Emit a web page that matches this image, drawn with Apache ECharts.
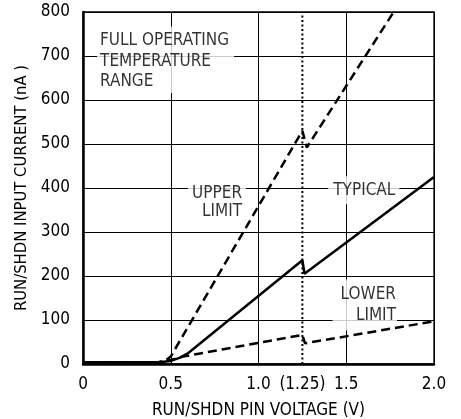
<!DOCTYPE html>
<html><head><meta charset="utf-8">
<script src="https://cdn.jsdelivr.net/npm/echarts@6/dist/echarts.min.js"></script>
<style>html,body{margin:0;padding:0;background:#fff}#c{width:461px;height:419px}</style>
</head><body><div id="c"></div>
<script>
const FONT = '"Liberation Sans Narrow","DejaVu Sans Condensed","Liberation Sans",sans-serif';

// data (V, nA)
const typicalV = [0, 0.43, 0.5, 0.55, 0.6, 1.25, 1.262, 2.0];
const typicalI = [4, 4, 7, 14, 25, 236, 205, 425];
const upperV = [0, 0.43, 0.47, 0.5, 1.25, 1.275, 1.77];
const upperI = [4, 4, 8, 17, 530, 492, 800];
const lowerV = [0, 0.43, 0.5, 0.57, 1.25, 1.265, 2.0];
const lowerI = [4, 4, 9, 17, 66, 47, 97];
const markerV = [1.25, 1.25];
const markerI = [0, 800];

const xTickValues = [0, 0.5, 1, 1.25, 1.5, 2];
const xTickLabels = ['0', '0.5', '1.0', '(1.25)', '1.5', '2.0'];
const yTickValues = [0, 100, 200, 300, 400, 500, 600, 700, 800];
const yTickLabels = ['0', '100', '200', '300', '400', '500', '600', '700', '800'];

const noteText = ['FULL OPERATING\nTEMPERATURE\nRANGE', 'UPPER\nLIMIT', 'TYPICAL', 'LOWER\nLIMIT'];
const noteAt = [[0.08, 767], [0.929, 367], [1.60, 395], [1.789, 134]];
const noteLayout = [
  {align: 'left', verticalAlign: 'top', padding: [4, 5, 1, 3], lineHeight: 20.5},
  {align: 'right', verticalAlign: 'middle', padding: [0, 4, 0, 4], lineHeight: 18.5},
  {align: 'center', verticalAlign: 'middle', padding: [5, 4, 5, 5], lineHeight: 18},
  {align: 'right', verticalAlign: 'middle', padding: [8, 1, 0, 8], lineHeight: 21.5}
];

const zip = (a, b) => a.map((v, i) => [v, b[i]]);

const chart = echarts.init(document.getElementById('c'), null, {renderer: 'canvas'});
chart.setOption({
  animation: false,
  backgroundColor: '#fff',
  grid: {left: 83, right: 27, top: 12, bottom: 55, containLabel: false, outerBoundsMode: 'none',
         show: true, borderColor: '#000', borderWidth: 1.3, backgroundColor: 'transparent'},
  xAxis: {
    type: 'value', min: 0, max: 2, interval: 0.5,
    name: 'RUN/SHDN PIN VOLTAGE (V)', nameLocation: 'middle', nameGap: 38,
    nameTextStyle: {fontFamily: FONT, fontSize: 17, color: '#000'},
    axisLine: {show: true, lineStyle: {color: '#000', width: 2.5}},
    axisTick: {show: false},
    splitLine: {show: true, lineStyle: {color: '#000', width: 1}},
    axisLabel: {
      customValues: xTickValues, margin: 12, fontFamily: FONT, fontSize: 17, color: '#000',
      formatter: v => { const i = xTickValues.findIndex(t => Math.abs(t - v) < 1e-9); return i >= 0 ? xTickLabels[i] : ''; }
    }
  },
  yAxis: {
    type: 'value', min: 0, max: 800, interval: 100,
    name: 'RUN/SHDN INPUT CURRENT (nA )', nameLocation: 'middle', nameGap: 47,
    nameTextStyle: {fontFamily: FONT, fontSize: 16.5, color: '#000'},
    axisLine: {show: true, lineStyle: {color: '#000', width: 2.5}},
    axisTick: {show: false},
    splitLine: {show: true, lineStyle: {color: '#000', width: 1}},
    axisLabel: {
      margin: 13, fontFamily: FONT, fontSize: 17, color: '#000',
      formatter: v => { const i = yTickValues.indexOf(v); return i >= 0 ? yTickLabels[i] : ''; }
    }
  },
  series: [
    {
      type: 'scatter', z: 1, symbolSize: 0, silent: true,
      data: noteAt.map((p, i) => ({
        value: p,
        label: Object.assign({
          show: true, position: [0, 0], formatter: noteText[i],
          fontFamily: FONT, fontSize: 17, color: '#000', backgroundColor: '#fff'
        }, noteLayout[i])
      }))
    },
    {type: 'line', z: 3, data: zip(markerV, markerI), symbol: 'none', lineStyle: {color: '#000', width: 2, type: [2, 2.5]}},
    {type: 'line', z: 4, data: zip(lowerV, lowerI), symbol: 'none', lineStyle: {color: '#000', width: 2.5, type: [9, 5]}},
    {type: 'line', z: 4, data: zip(upperV, upperI), symbol: 'none', lineStyle: {color: '#000', width: 2.5, type: [9, 5]}},
    {type: 'line', z: 4, data: zip(typicalV, typicalI), symbol: 'none', lineStyle: {color: '#000', width: 2.5}}
  ]
});
</script></body></html>
